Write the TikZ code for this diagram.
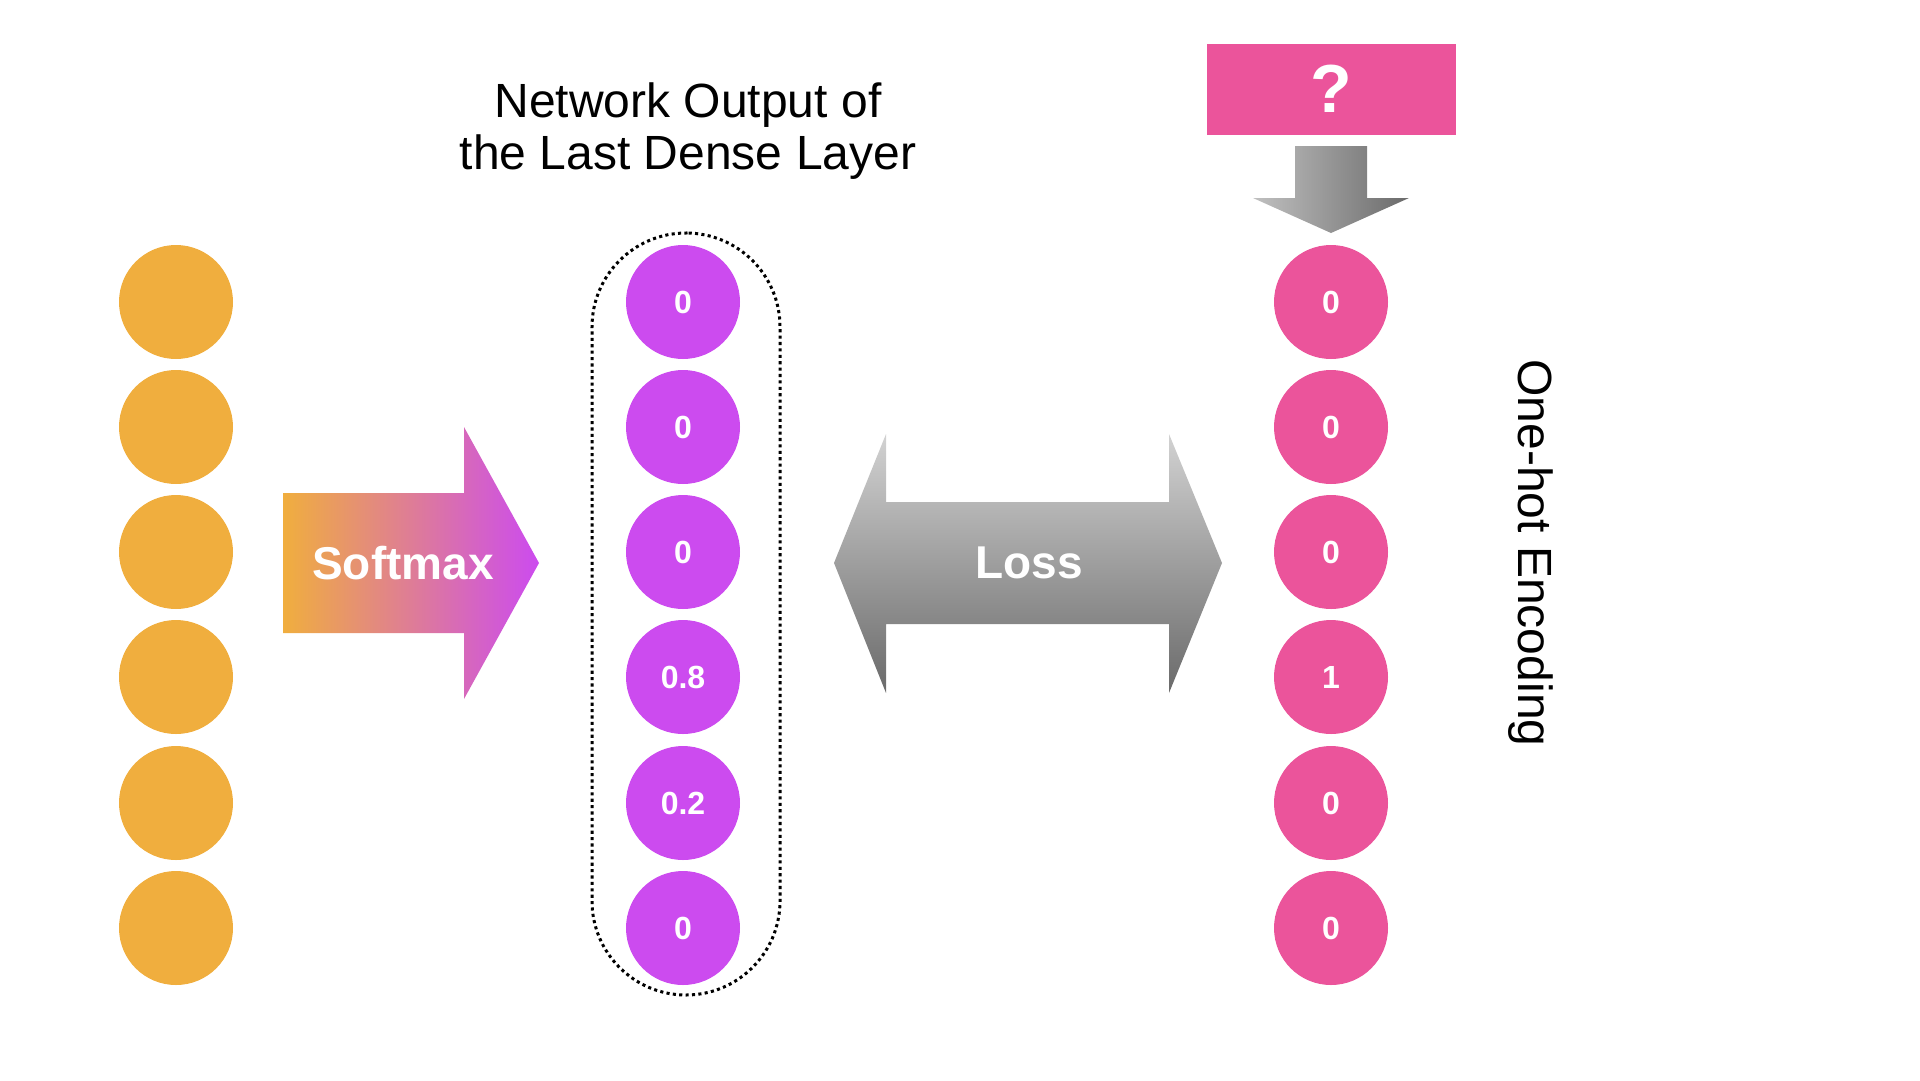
\documentclass[tikz,border=0pt]{standalone}
\usepackage{fontspec}
\setmainfont{Liberation Sans}
\usepackage{tikz}

\begin{document}
\begin{tikzpicture}[x=1pt,y=-1pt,line cap=rect,
    unit/.style={circle, inner sep=0pt, minimum size=114pt, text=white,
                 font=\bfseries\fontsize{32pt}{32pt}\selectfont},
    inunit/.style={unit, fill=custcol_f0_ae_3e},
    outunit/.style={unit, fill=custcol_cc_4b_ef},
    hotunit/.style={unit, fill=custcol_eb_54_9b},
    arrowlabel/.style={text=white, font=\bfseries\fontsize{46pt}{46pt}\selectfont},
    plainlabel/.style={text=black, align=center, font=\fontsize{48pt}{52pt}\selectfont}]
					\definecolor{custcol_f0_ae_3e}{RGB}{240, 174, 62}
					\definecolor{custcol_cc_4b_ef}{RGB}{204, 75, 239}
					\definecolor{custcol_eb_54_9b}{RGB}{235, 84, 155}
					\definecolor{custcol_d2_d2_d2}{RGB}{210, 210, 210}
					\definecolor{custcol_6a_6a_6a}{RGB}{106, 106, 106}
					\definecolor{custcol_c0_c0_c0}{RGB}{192, 192, 192}
					\useasboundingbox (0,0) rectangle (1920,1080);
					% input units
					\node[inunit] (in0) at (176,302) {};
					\node[inunit] (in1) at (176,427) {};
					\node[inunit] (in2) at (176,552) {};
					\node[inunit] (in3) at (176,677) {};
					\node[inunit] (in4) at (176,803) {};
					\node[inunit] (in5) at (176,928) {};
					% softmax arrow
					\shade [left color=custcol_f0_ae_3e, right color=custcol_cc_4b_ef]  (283,493) -- (464,493) -- (464,427) -- (539,563) -- (464,699) -- (464,633) -- (283,633) -- cycle;
					\node[arrowlabel] (softmax) at (403,563) {Softmax};
					% network output
					\node[plainlabel] (outtitle) at (688,131) {Network Output of\\the Last Dense Layer};
					\node[draw, dash pattern=on 0.1pt off 6.3pt, line width=3pt, rounded corners=94pt, minimum width=188pt, minimum height=762pt] (outbox) at (686,614) {};
					\node[outunit] (out0) at (683,302) {0};
					\node[outunit] (out1) at (683,427) {0};
					\node[outunit] (out2) at (683,552) {0};
					\node[outunit] (out3) at (683,677) {0.8};
					\node[outunit] (out4) at (683,803) {0.2};
					\node[outunit] (out5) at (683,928) {0};
					% loss arrow
					\shade [top color=custcol_d2_d2_d2, bottom color=custcol_6a_6a_6a]  (834,563) -- (886,434) -- (886,502) -- (1169,502) -- (1169,434) -- (1222,563) -- (1169,693) -- (1169,624) -- (886,624) -- (886,693) -- cycle;
					\node[arrowlabel] (loss) at (1029,563) {Loss};
					% one-hot encoding
					\node[rectangle, fill=custcol_eb_54_9b, minimum width=249pt, minimum height=91pt, text=white, font=\bfseries\fontsize{68pt}{68pt}\selectfont] (label) at (1331,89) {?};
					\shade [left color=custcol_c0_c0_c0, right color=custcol_6a_6a_6a]  (1295,146) -- (1367,146) -- (1367,198) -- (1409,198) -- (1331,233) -- (1253,198) -- (1295,198) -- cycle;
					\node[hotunit] (hot0) at (1331,302) {0};
					\node[hotunit] (hot1) at (1331,427) {0};
					\node[hotunit] (hot2) at (1331,552) {0};
					\node[hotunit] (hot3) at (1331,677) {1};
					\node[hotunit] (hot4) at (1331,803) {0};
					\node[hotunit] (hot5) at (1331,928) {0};
					\node[plainlabel, rotate=-90] (hottitle) at (1531,553) {One-hot Encoding};
				\end{tikzpicture}
\end{document}
